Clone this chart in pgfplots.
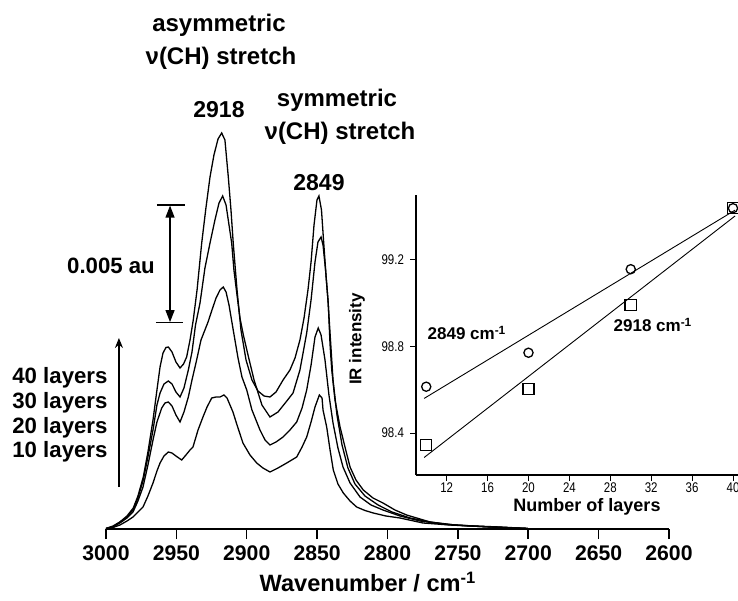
\documentclass[border=0pt]{standalone}
\usepackage{pgfplots}
\pgfplotsset{compat=1.18}
\usepackage{fontspec}
\setmainfont{Liberation Sans}
\newfontfamily\narrowfont[FakeStretch=0.82]{Liberation Sans}
\usetikzlibrary{arrows.meta}

% spectra: wavenumber (cm^-1) vs absorbance (arbitrary units, 117.7 units = 0.005 au)
\pgfplotsset{spec/.style={black, line width=0.65pt, no marks}}

\begin{document}
\begin{tikzpicture}
\useasboundingbox (0,0) rectangle (369pt,300pt);

\begin{axis}[
    at={(53pt,35.5pt)}, anchor=south west,
    width=281.5pt, height=264.5pt, scale only axis,
    xmin=2600, xmax=3000, x dir=reverse,
    ymin=0, ymax=529,
    axis x line=bottom, axis y line=none,
    axis line style={-, line width=0.75pt},
    xtick={2600,2650,...,3000},
    tick align=outside,
    major tick length=5pt,
    xtick style={line width=0.75pt, black},
    ticklabel style={font=\fontsize{10.6}{12}\selectfont\bfseries},
    /pgf/number format/assume math mode=true,
    /pgf/number format/1000 sep={},
    clip=false,
]
% 40 layers
\addplot[spec] coordinates {
(3000.0,0.5) (2995.0,3) (2990.1,7) (2985.1,13) (2980.6,21) (2977.3,33)
(2973.5,52) (2970.2,77) (2966.6,109) (2963.8,139) (2961.6,162) (2959.5,176)
(2957.4,181.5) (2955.7,182) (2953.1,177) (2950.3,167) (2947.4,161) (2944.9,165)
(2942.7,172) (2940.3,189) (2938.0,209) (2935.3,239) (2932.0,286) (2929.0,321)
(2926.1,352) (2923.3,374) (2920.4,390) (2917.8,396) (2915.5,389) (2913.1,352)
(2911.2,319) (2909.6,286) (2906.9,239) (2904.1,199) (2900.5,169) (2896.3,149)
(2892.0,138) (2887.7,133) (2883.5,132) (2879.2,137) (2874.2,149) (2869.3,159)
(2865.7,171) (2862.2,189) (2859.3,211) (2856.5,239) (2854.3,267) (2852.2,304)
(2850.1,329) (2848.7,333) (2846.9,319) (2845.6,292) (2843.7,254) (2842.1,226)
(2840.8,184) (2839.6,159) (2837.3,129) (2833.7,102) (2830.2,82) (2826.6,62)
(2822.4,49) (2817.2,39) (2810.3,31) (2803.2,26) (2794.7,19) (2786.4,14)
(2776.9,10) (2769.8,7) (2759.1,5) (2752.0,4) (2737.8,3) (2720.1,2) (2700.2,0.5)
};
% 30 layers
\addplot[spec] coordinates {
(3000.0,0.5) (2995.0,2.5) (2990.1,7) (2985.1,12) (2980.8,19) (2977.3,31)
(2973.5,49) (2970.2,72) (2966.6,99) (2963.8,124) (2961.6,136) (2958.8,145)
(2955.7,148) (2953.1,145) (2950.3,137) (2947.4,132) (2944.6,141) (2941.5,159)
(2938.9,177) (2936.4,204) (2933.2,226) (2929.7,261) (2926.1,286) (2922.6,309)
(2919.7,326) (2917.1,333) (2914.7,324) (2912.6,304) (2910.7,286) (2909.1,259)
(2907.1,236) (2904.8,211) (2902.4,194) (2899.1,174) (2894.8,149) (2889.2,124)
(2883.5,112) (2877.8,117) (2872.1,127) (2867.1,136) (2862.2,159) (2857.4,196)
(2854.3,229) (2851.5,267) (2849.4,287) (2847.2,292) (2845.8,284) (2844.0,259)
(2842.3,229) (2840.5,189) (2838.7,149) (2835.9,114) (2832.3,84) (2828.1,61)
(2823.1,45) (2816.0,33) (2806.7,24) (2796.8,17) (2784.0,11) (2769.8,7)
(2752.0,4) (2727.2,2) (2700.2,0.5)
};
% 20 layers
\addplot[spec] coordinates {
(3000.0,0.5) (2995.0,2) (2990.1,6) (2985.1,11) (2980.8,17) (2977.3,28)
(2973.7,42) (2970.2,64) (2966.6,89) (2963.8,107) (2960.4,121) (2958.1,126)
(2955.7,127) (2953.1,123) (2950.3,114) (2947.4,107) (2944.6,117) (2941.5,132)
(2938.9,149) (2935.6,169) (2932.5,189) (2927.5,207) (2924.7,219) (2921.8,231)
(2919.0,239) (2916.7,242) (2914.7,237) (2912.6,224) (2909.6,199) (2906.2,171)
(2903.4,152) (2900.0,139) (2896.3,119) (2890.6,99) (2887.0,89) (2883.5,84)
(2879.2,87) (2874.2,92) (2869.3,99) (2864.5,107) (2860.7,121) (2857.4,139)
(2854.3,164) (2851.5,192) (2849.2,201) (2847.2,194) (2844.4,169) (2841.6,134)
(2838.7,106) (2835.2,81) (2831.6,62) (2826.6,46) (2819.5,32) (2811.7,24)
(2803.2,19) (2791.1,13) (2776.9,8) (2759.1,4.5) (2734.3,2.5) (2700.2,0.5)
};
% 10 layers
\addplot[spec] coordinates {
(3000.0,0.5) (2995.0,1.5) (2990.1,4) (2985.1,8) (2980.8,12) (2977.3,17)
(2973.7,22) (2970.2,33) (2966.6,46) (2963.8,58) (2961.6,66) (2958.8,73)
(2955.7,77) (2953.1,76) (2950.3,73) (2946.2,69) (2943.2,74) (2940.3,79)
(2938.2,82) (2934.6,99) (2931.1,112) (2928.2,122) (2924.9,131) (2921.8,132)
(2919.0,132) (2916.2,134) (2914.0,131) (2911.9,124) (2909.8,117) (2906.9,104)
(2902.7,86) (2897.7,74) (2892.9,66) (2888.5,61) (2883.5,57) (2877.8,61)
(2871.6,66) (2864.5,72) (2860.7,82) (2857.4,92) (2854.3,107) (2851.5,122)
(2848.4,134) (2846.5,131) (2845.8,119) (2843.2,102) (2840.8,79) (2838.5,59)
(2835.2,45) (2831.4,36) (2826.6,28) (2821.9,22) (2816.0,18.5) (2810.1,16)
(2801.1,13) (2791.1,11) (2774.8,6) (2755.6,4) (2734.3,2.5) (2700.2,0.5)
};
% 0.005 au scale bar
\draw[line width=0.6pt] (axis cs:2963.8,324) -- (axis cs:2944.1,324);
\draw[line width=0.6pt] (axis cs:2964.5,206.3) -- (axis cs:2945.3,206.3);
\draw[line width=0.6pt, {Triangle[length=6pt,width=4.5pt]}-{Triangle[length=6pt,width=4.5pt]}]
  (axis cs:2954.5,323.4) -- (axis cs:2954.5,206.9);
% layer arrow
\draw[line width=0.6pt, -{Stealth[length=5pt,width=4pt]}]
  (axis cs:2990.8,42) -- (axis cs:2990.8,191);
\end{axis}

% inset: IR intensity vs number of layers
\begin{axis}[
    at={(208pt,62.5pt)}, anchor=south west,
    width=161pt, height=140pt, scale only axis,
    xmin=9, xmax=40.49, ymin=98.206, ymax=99.50,
    axis x line=bottom, axis y line=left,
    axis line style={-, line width=0.6pt},
    xtick={12,16,...,40}, ytick={98.4,98.8,99.2},
    tick align=outside, major tick length=3pt,
    tick style={black, line width=0.5pt},
    ticklabel style={font=\fontsize{7}{8}\narrowfont},
    xticklabel style={yshift=2.5pt},
    yticklabel style={xshift=0.5pt, /pgf/number format/.cd, fixed, fixed zerofill, precision=1},
    /pgf/number format/assume math mode=true,
    clip=false,
]
\addplot[black, line width=0.45pt, no marks] coordinates {(9.8,98.560) (40.2,99.430)};
\addplot[black, line width=0.45pt, no marks] coordinates {(9.8,98.287) (40.2,99.403)};
\addplot[only marks, mark=o, mark size=2.3pt, mark options={line width=0.65pt, black}]
  coordinates {(10,98.614) (20,98.771) (30,99.157) (40,99.439)};
\addplot[only marks, mark=square, mark size=2.8pt, mark options={line width=0.65pt, black, fill=white}]
  coordinates {(10,98.345) (20,98.603) (30,98.992) (40,99.439)};
\end{axis}

% text, placed in pixel units of the reference
\begin{scope}[x=0.5pt, y=-0.5pt, yshift=300pt, font=\bfseries]
\node[font=\fontsize{12}{14}\selectfont\bfseries] at (219,25) {asymmetric};
\node[font=\fontsize{12}{14}\selectfont\bfseries] at (221,58) {ν(CH) stretch};
\node[font=\fontsize{11.5}{14}\selectfont\bfseries] at (219,110) {2918};
\node[font=\fontsize{12}{14}\selectfont\bfseries] at (337,100) {symmetric};
\node[font=\fontsize{12}{14}\selectfont\bfseries] at (340,133) {ν(CH) stretch};
\node[font=\fontsize{11.5}{14}\selectfont\bfseries] at (319,183) {2849};
\node[font=\fontsize{11.1}{13}\selectfont\bfseries] at (111,266) {0.005 au};
\node[font=\fontsize{11.1}{13}\selectfont\bfseries, anchor=west, inner sep=0pt] at (12,378) {40 layers};
\node[font=\fontsize{11.1}{13}\selectfont\bfseries, anchor=west, inner sep=0pt] at (12,403) {30 layers};
\node[font=\fontsize{11.1}{13}\selectfont\bfseries, anchor=west, inner sep=0pt] at (12,428) {20 layers};
\node[font=\fontsize{11.1}{13}\selectfont\bfseries, anchor=west, inner sep=0pt] at (12,452) {10 layers};
\node[font=\fontsize{11.8}{14}\selectfont\bfseries] at (368,582) {Wavenumber / cm\textsuperscript{-1}};
\node[font=\fontsize{8.5}{10}\selectfont\bfseries, rotate=90] at (357,339) {IR intensity};
\node[font=\fontsize{9}{11}\selectfont\bfseries] at (587,507) {Number of layers};
\node[font=\fontsize{8.5}{10}\selectfont\bfseries] at (467,333) {2849 cm\textsuperscript{-1}};
\node[font=\fontsize{8.5}{10}\selectfont\bfseries] at (653,325) {2918 cm\textsuperscript{-1}};
\end{scope}
\end{tikzpicture}
\end{document}
